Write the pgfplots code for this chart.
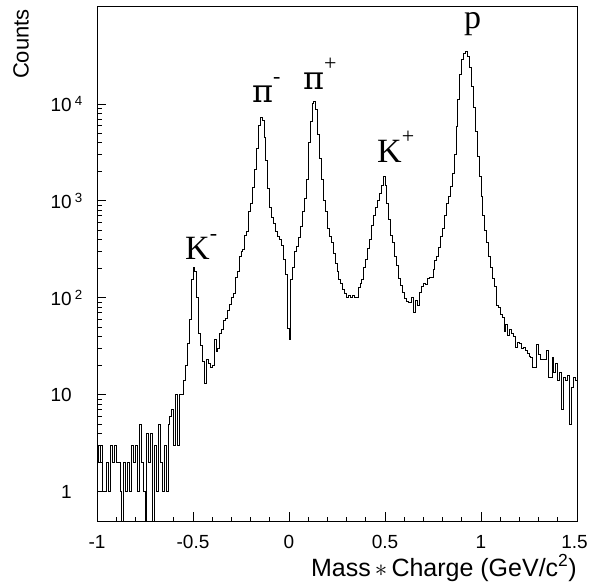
\documentclass[border=0pt]{standalone}
\usepackage{fontspec}
\setmainfont{Liberation Sans}
\newfontfamily\timesfont{Liberation Serif}
\newfontfamily\greekfont{DejaVu Serif}
\usepackage{pgfplots}
\pgfplotsset{compat=1.18}
\usepackage{pgfplotstable}

\pgfplotstableread{
x y
-1.00 3
-0.99 2
-0.98 3
-0.97 1
-0.96 1
-0.95 2
-0.94 1
-0.93 3
-0.92 2
-0.91 3
-0.90 2
-0.89 2
-0.88 1
-0.87 0.1
-0.86 2
-0.85 1
-0.84 2
-0.83 1
-0.82 3
-0.81 2
-0.80 3
-0.79 1
-0.78 5
-0.77 2
-0.76 1
-0.75 0.1
-0.74 4
-0.73 2
-0.72 4
-0.71 0.1
-0.70 3
-0.69 1
-0.68 5
-0.67 2
-0.66 1
-0.65 3
-0.64 1
-0.63 5
-0.62 6
-0.61 7
-0.60 3
-0.59 10
-0.58 3
-0.57 10
-0.56 10
-0.55 14
-0.54 20
-0.53 34
-0.52 60
-0.51 155
-0.50 205
-0.49 185
-0.48 100
-0.47 43
-0.46 32
-0.45 22
-0.44 13
-0.43 23
-0.42 21
-0.41 19
-0.40 20
-0.39 37
-0.38 28
-0.37 30
-0.36 43
-0.35 47
-0.34 59
-0.33 62
-0.32 75
-0.31 85
-0.30 100
-0.29 112
-0.28 164
-0.27 186
-0.26 265
-0.25 300
-0.24 313
-0.23 445
-0.22 480
-0.21 770
-0.20 950
-0.19 1360
-0.18 2100
-0.17 3500
-0.16 6000
-0.15 7200
-0.14 6800
-0.13 4500
-0.12 2600
-0.11 1350
-0.10 850
-0.09 680
-0.08 590
-0.07 480
-0.06 430
-0.05 400
-0.04 350
-0.03 250
-0.02 175
-0.01 48
0.00 37
0.01 153
0.02 208
0.03 300
0.04 335
0.05 415
0.06 540
0.07 770
0.08 1070
0.09 1650
0.10 3960
0.11 6600
0.12 10000
0.13 10500
0.14 8700
0.15 4800
0.16 2750
0.17 1650
0.18 1020
0.19 770
0.20 525
0.21 425
0.22 370
0.23 290
0.24 228
0.25 186
0.26 153
0.27 142
0.28 121
0.29 112
0.30 102
0.31 107
0.32 102
0.33 107
0.34 102
0.35 102
0.36 127
0.37 142
0.38 153
0.39 204
0.40 250
0.41 320
0.42 400
0.43 560
0.44 700
0.45 850
0.46 1000
0.47 1200
0.48 1450
0.49 1770
0.50 1450
0.51 950
0.52 640
0.53 445
0.54 370
0.55 265
0.56 218
0.57 160
0.58 135
0.59 115
0.60 98
0.61 91
0.62 89
0.63 89
0.64 100
0.65 70
0.66 95
0.67 84
0.68 115
0.69 130
0.70 142
0.71 139
0.72 160
0.73 164
0.74 164
0.75 194
0.76 245
0.77 265
0.78 330
0.79 425
0.80 525
0.81 715
0.82 950
0.83 1100
0.84 1400
0.85 1900
0.86 3000
0.87 5800
0.88 11000
0.89 20000
0.90 29000
0.91 33000
0.92 34500
0.93 31000
0.94 24000
0.95 15000
0.96 9100
0.97 5200
0.98 2900
0.99 1770
1.00 1100
1.01 700
1.02 500
1.03 370
1.04 265
1.05 204
1.06 160
1.07 130
1.08 84
1.09 80
1.10 67
1.11 63
1.12 45
1.13 53
1.14 41
1.15 47
1.16 43
1.17 40
1.18 31
1.19 35
1.20 34
1.21 30
1.22 31
1.23 29
1.24 27
1.25 25
1.26 24
1.27 19
1.28 19
1.29 33
1.30 26
1.31 23
1.32 23
1.33 23
1.34 29
1.35 15
1.36 15
1.37 24
1.38 17
1.39 21
1.40 14
1.41 17
1.42 7
1.43 15
1.44 14
1.45 16
1.46 5
1.47 12
1.48 15
1.49 14
1.50 14
}\histdata

\begin{document}
\begin{tikzpicture}[x=1pt,y=1pt]
\useasboundingbox (0,0) rectangle (589,587);
\begin{axis}[
  at={(97pt,66pt)}, anchor=south west,
  scale only axis, width=480pt, height=514pt,
  xmin=-1, xmax=1.5, ymode=log, ymin=0.5, ymax=1e5,
  tick align=inside, xtick pos=bottom, ytick pos=left,
  xtick={-1,-0.5,0,0.5,1,1.5},
  xticklabels={-1,-0.5,0,0.5,1,\hspace*{-5pt}1.5},
  minor x tick num=4,
  ytick={1,10,100,1000,10000},
  yticklabels={1,10,10\rlap{\,\textsuperscript{2}},10\rlap{\,\textsuperscript{3}},10\rlap{\,\textsuperscript{4}}},
  major tick length=9pt, minor tick length=4.5pt,
  axis line style={line width=1pt},
  tick style={black, line width=0.9pt},
  xticklabel style={font=\fontsize{19}{22}\selectfont, anchor=north, inner sep=0pt, yshift=-14pt},
  yticklabel style={font=\fontsize{19}{22}\selectfont, anchor=east, inner sep=0pt, xshift=-25pt},
]
\addplot[const plot mark left, black, line width=1pt] table {\histdata};
\end{axis}
\node[anchor=base east, inner sep=0pt, font=\fontsize{25}{27}\selectfont] at (577,11) {Mass$\,\ast\,$Charge (GeV/c\textsuperscript{2})};
\node[anchor=north east, rotate=90, inner sep=0pt, font=\fontsize{22}{24}\selectfont] at (13,578) {Counts};
\begin{scope}[every node/.style={inner sep=0pt, anchor=base west, font=\timesfont\fontsize{34}{34}\selectfont}]
\node at (185,327) {K\raisebox{19pt}{\fontsize{22}{22}\selectfont -}};
\node at (252,484) {{\greekfont\fontsize{32}{32}\selectfont π}\raisebox{19pt}{\fontsize{22}{22}\selectfont -}};
\node at (303,497) {{\greekfont\fontsize{32}{32}\selectfont π}\raisebox{19pt}{\fontsize{22}{22}\selectfont +}};
\node at (377,424) {K\raisebox{19pt}{\fontsize{22}{22}\selectfont +}};
\node at (464,558) {p};
\end{scope}
\end{tikzpicture}
\end{document}
